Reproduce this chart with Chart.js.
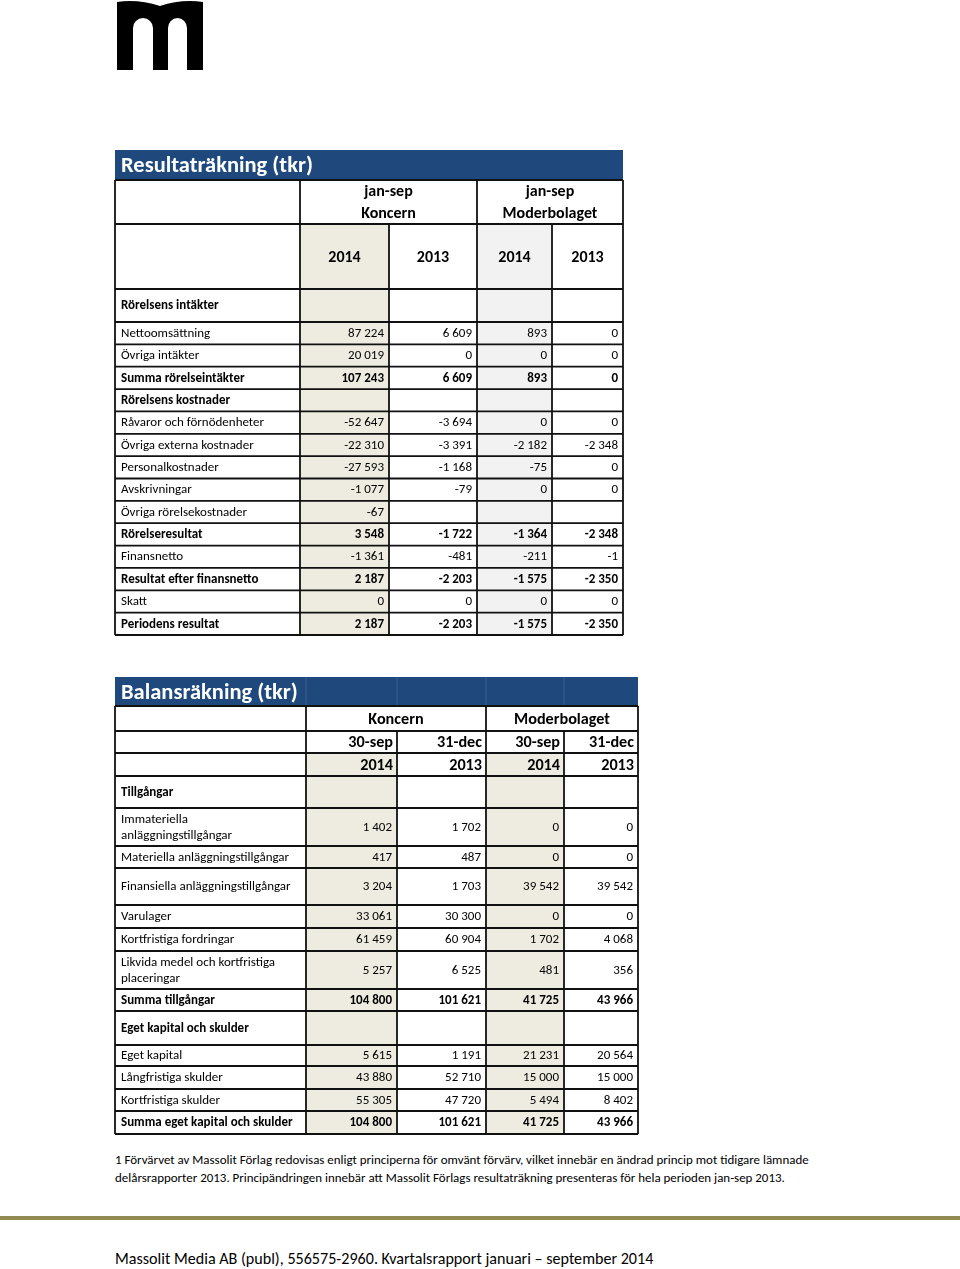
<!DOCTYPE html>
<html lang="sv">
<head>
<meta charset="utf-8">
<script src="https://cdn.jsdelivr.net/npm/chart.js@4.4.1/dist/chart.umd.min.js"></script>
<style>
  html, body { margin: 0; padding: 0; background: #fff; }
  body { width: 960px; height: 1269px; position: relative; overflow: hidden; font-family: Calibri, Carlito, Lato, sans-serif; color: #000; }
  canvas { position: absolute; }
  #logo { position: absolute; left: 0; top: 0; }
  #note { position: absolute; left: 115px; top: 1151px; font-size: 12.95px; line-height: 18px; white-space: nowrap; }
  #rule { position: absolute; left: 0; top: 1216px; width: 960px; height: 4px; background: #948A54; }
  #foot { position: absolute; left: 115px; top: 1249px; font-size: 16.1px; white-space: nowrap; }
</style>
</head>
<body>
<svg id="logo" width="960" height="80" viewBox="0 0 960 80">
  <path fill="#000" d="M117,2 Q138,-1 160,6 Q181,-1 203,2 L203,70 L187,70 L187,28 A9.5,10 0 0 0 168,28 L168,70 L153,70 L153,28 A10,10 0 0 0 133,28 L133,70 L117,70 Z"/>
</svg>
<canvas id="t1"></canvas>
<canvas id="t2"></canvas>
<div id="note">1 Förvärvet av Massolit Förlag redovisas enligt principerna för omvänt förvärv, vilket innebär en ändrad princip mot tidigare lämnade<br>delårsrapporter 2013. Principändringen innebär att Massolit Förlags resultaträkning presenteras för hela perioden jan-sep 2013.</div>
<div id="rule"></div>
<div id="foot">Massolit Media AB (publ), 556575-2960. Kvartalsrapport januari – september 2014</div>
<script>
// ---------- DATA: Resultaträkning ----------
const t1Title = "Resultaträkning (tkr)";
const t1GroupLabels = [["jan-sep", "Koncern"], ["jan-sep", "Moderbolaget"]];
const t1Years = ["2014", "2013", "2014", "2013"];
const t1Rows = ["Rörelsens intäkter", "Nettoomsättning", "Övriga intäkter", "Summa rörelseintäkter", "Rörelsens kostnader",
  "Råvaror och förnödenheter", "Övriga externa kostnader", "Personalkostnader", "Avskrivningar", "Övriga rörelsekostnader",
  "Rörelseresultat", "Finansnetto", "Resultat efter finansnetto", "Skatt", "Periodens resultat"];
const t1Bold = [true, false, false, true, true, false, false, false, false, false, true, false, true, false, true];
const t1Koncern2014 = [null, 87224, 20019, 107243, null, -52647, -22310, -27593, -1077, -67, 3548, -1361, 2187, 0, 2187];
const t1Koncern2013 = [null, 6609, 0, 6609, null, -3694, -3391, -1168, -79, null, -1722, -481, -2203, 0, -2203];
const t1Moder2014 = [null, 893, 0, 893, null, 0, -2182, -75, 0, null, -1364, -211, -1575, 0, -1575];
const t1Moder2013 = [null, 0, 0, 0, null, 0, -2348, 0, 0, null, -2348, -1, -2350, 0, -2350];

// ---------- DATA: Balansräkning ----------
const t2Title = "Balansräkning (tkr)";
const t2GroupLabels = ["Koncern", "Moderbolaget"];
const t2Dates = ["30-sep", "31-dec", "30-sep", "31-dec"];
const t2Years = ["2014", "2013", "2014", "2013"];
const t2Rows = ["Tillgångar", "Immateriella\nanläggningstillgångar", "Materiella anläggningstillgångar", "Finansiella anläggningstillgångar",
  "Varulager", "Kortfristiga fordringar", "Likvida medel och kortfristiga\nplaceringar", "Summa tillgångar", "Eget kapital och skulder",
  "Eget kapital", "Långfristiga skulder", "Kortfristiga skulder", "Summa eget kapital och skulder"];
const t2Bold = [true, false, false, false, false, false, false, true, true, false, false, false, true];
const t2Koncern2014 = [null, 1402, 417, 3204, 33061, 61459, 5257, 104800, null, 5615, 43880, 55305, 104800];
const t2Koncern2013 = [null, 1702, 487, 1703, 30300, 60904, 6525, 101621, null, 1191, 52710, 47720, 101621];
const t2Moder2014 = [null, 0, 0, 39542, 0, 1702, 481, 41725, null, 21231, 15000, 5494, 41725];
const t2Moder2013 = [null, 0, 0, 39542, 0, 4068, 356, 43966, null, 20564, 15000, 8402, 43966];

// ---------- LAYOUT / STYLE ----------
const FONT = 'Calibri, Carlito, Lato, sans-serif';
const BLUE = '#1F497D', BEIGE = '#EEECE1', GRAY = '#F2F2F2';
const t1Box = { left: 115, top: 150, colW: [185, 89, 88, 75, 71], headH: [30, 44, 65], bodyH: [33].concat(Array(14).fill(22.36)) };
const t2Box = { left: 115, top: 677, colW: [191, 91, 89, 78, 74], headH: [29, 25, 22, 23], bodyH: [32, 38, 22, 37, 23, 23, 38, 22, 34, 21, 23, 22, 23] };
const PAD = 3;
const BODY_PX = 13, HEAD1_PX = 16, HEAD2_PX = 16.2, TITLE_PX = 22.5;

function fmt(v) {
  if (v === null || v === undefined) return '';
  const s = Math.abs(v).toString().replace(/\B(?=(\d{3})+(?!\d))/g, ' ');
  return (v < 0 ? '-' : '') + s;
}
function cum(arr) { const out = [0]; arr.forEach(a => out.push(out[out.length - 1] + a)); return out; }

function makeTable(canvasId, box, drawFn) {
  const W = box.colW.reduce((a, b) => a + b, 0);
  const H = box.headH.concat(box.bodyH).reduce((a, b) => a + b, 0);
  const cv = document.getElementById(canvasId);
  cv.style.left = (box.left - PAD) + 'px';
  cv.style.top = (box.top - PAD) + 'px';
  cv.width = W + 2 * PAD; cv.height = H + 2 * PAD;
  cv.style.width = cv.width + 'px'; cv.style.height = cv.height + 'px';
  return new Chart(cv, {
    type: 'scatter',
    data: { datasets: [] },
    options: {
      responsive: false, animation: false, events: [],
      layout: { padding: 0 },
      plugins: { legend: { display: false }, tooltip: { enabled: false }, title: { display: false } },
      scales: {
        x: { type: 'linear', display: false, min: -PAD, max: W + PAD },
        y: { type: 'linear', display: false, min: -PAD, max: H + PAD, reverse: true }
      }
    },
    plugins: [{ id: 'tbl', afterDraw(chart) { drawFn(chart, W, H); } }]
  });
}

function helpers(chart) {
  const ctx = chart.ctx, sx = chart.scales.x, sy = chart.scales.y;
  const X = v => sx.getPixelForValue(v), Y = v => sy.getPixelForValue(v);
  return {
    ctx, X, Y,
    rect(x0, y0, x1, y1, c) { ctx.fillStyle = c; ctx.fillRect(X(x0), Y(y0), X(x1) - X(x0), Y(y1) - Y(y0)); },
    line(x0, y0, x1, y1, c, w) { ctx.strokeStyle = c; ctx.lineWidth = w; ctx.beginPath(); ctx.moveTo(X(x0), Y(y0)); ctx.lineTo(X(x1), Y(y1)); ctx.stroke(); },
    text(s, x, y, align, font, color) { ctx.font = font; ctx.fillStyle = color || '#000'; ctx.textAlign = align; ctx.textBaseline = 'middle'; ctx.fillText(s, X(x), Y(y)); }
  };
}

// ---------- Resultaträkning ----------
makeTable('t1', t1Box, (chart, W, H) => {
  const h = helpers(chart);
  const cx = cum(t1Box.colW);
  const rowsH = t1Box.headH.concat(t1Box.bodyH);
  const cy = cum(rowsH);
  h.rect(0, 0, W, cy[1], BLUE);
  h.rect(cx[1], cy[2], cx[2], H, BEIGE);
  h.rect(cx[3], cy[2], cx[4], H, GRAY);
  const LC = '#111', LW = 1.8;
  for (let r = 1; r < cy.length; r++) h.line(0, cy[r], W, cy[r], LC, LW);
  [0, cx[1], cx[3], W].forEach(x => h.line(x, cy[1], x, H, LC, LW));
  [cx[2], cx[4]].forEach(x => h.line(x, cy[2], x, H, LC, LW));
  h.text(t1Title, 6, cy[1] / 2 + 1.5, 'left', 'bold ' + TITLE_PX + 'px ' + FONT, '#fff');
  t1GroupLabels.forEach((lines, g) => {
    const mid = (cx[1 + 2 * g] + cx[3 + 2 * g]) / 2;
    h.text(lines[0], mid, cy[1] + 12.5, 'center', 'bold ' + HEAD1_PX + 'px ' + FONT);
    h.text(lines[1], mid, cy[1] + 34.5, 'center', 'bold ' + HEAD1_PX + 'px ' + FONT);
  });
  t1Years.forEach((yr, i) => h.text(yr, (cx[i + 1] + cx[i + 2]) / 2, (cy[2] + cy[3]) / 2 + 1.5, 'center', 'bold ' + HEAD1_PX + 'px ' + FONT));
  const cols = [t1Koncern2014, t1Koncern2013, t1Moder2014, t1Moder2013];
  t1Rows.forEach((lab, r) => {
    const yMid = (cy[3 + r] + cy[4 + r]) / 2 + 0.5;
    const f = (t1Bold[r] ? 'bold ' : '') + BODY_PX + 'px ' + FONT;
    h.text(lab, 6, yMid, 'left', f);
    cols.forEach((arr, c) => h.text(fmt(arr[r]), cx[c + 2] - 5, yMid, 'right', f));
  });
});

// ---------- Balansräkning ----------
makeTable('t2', t2Box, (chart, W, H) => {
  const h = helpers(chart);
  const cx = cum(t2Box.colW);
  const rowsH = t2Box.headH.concat(t2Box.bodyH);
  const cy = cum(rowsH);
  h.rect(0, 0, W, cy[1], BLUE);
  for (let c = 1; c < cx.length - 1; c++) h.line(cx[c], 0, cx[c], cy[1], 'rgba(255,255,255,0.12)', 1);
  h.rect(cx[1], cy[3], cx[2], H, BEIGE);
  h.rect(cx[3], cy[3], cx[4], H, BEIGE);
  const LC = '#111', LW = 1.8;
  for (let r = 1; r < cy.length; r++) h.line(0, cy[r], W, cy[r], LC, LW);
  [0, cx[1], cx[3], W].forEach(x => h.line(x, cy[1], x, H, LC, LW));
  [cx[2], cx[4]].forEach(x => h.line(x, cy[2], x, H, LC, LW));
  h.text(t2Title, 6, cy[1] / 2 + 1.5, 'left', 'bold ' + TITLE_PX + 'px ' + FONT, '#fff');
  t2GroupLabels.forEach((g, i) => h.text(g, (cx[1 + 2 * i] + cx[3 + 2 * i]) / 2, (cy[1] + cy[2]) / 2 + 1, 'center', 'bold ' + HEAD2_PX + 'px ' + FONT));
  t2Dates.forEach((d, i) => h.text(d, cx[i + 2] - 4, (cy[2] + cy[3]) / 2 + 1, 'right', 'bold ' + HEAD2_PX + 'px ' + FONT));
  t2Years.forEach((yr, i) => h.text(yr, cx[i + 2] - 4, (cy[3] + cy[4]) / 2 + 1, 'right', 'bold ' + HEAD2_PX + 'px ' + FONT));
  const cols = [t2Koncern2014, t2Koncern2013, t2Moder2014, t2Moder2013];
  t2Rows.forEach((lab, r) => {
    const y0 = cy[4 + r], y1 = cy[5 + r], yMid = (y0 + y1) / 2 + 0.5;
    const f = (t2Bold[r] ? 'bold ' : '') + BODY_PX + 'px ' + FONT;
    const lines = lab.split('\n');
    lines.forEach((ln, k) => h.text(ln, 6, yMid + (k - (lines.length - 1) / 2) * 16, 'left', f));
    cols.forEach((arr, c) => h.text(fmt(arr[r]), cx[c + 2] - 5, yMid, 'right', f));
  });
});
</script>
</body>
</html>
